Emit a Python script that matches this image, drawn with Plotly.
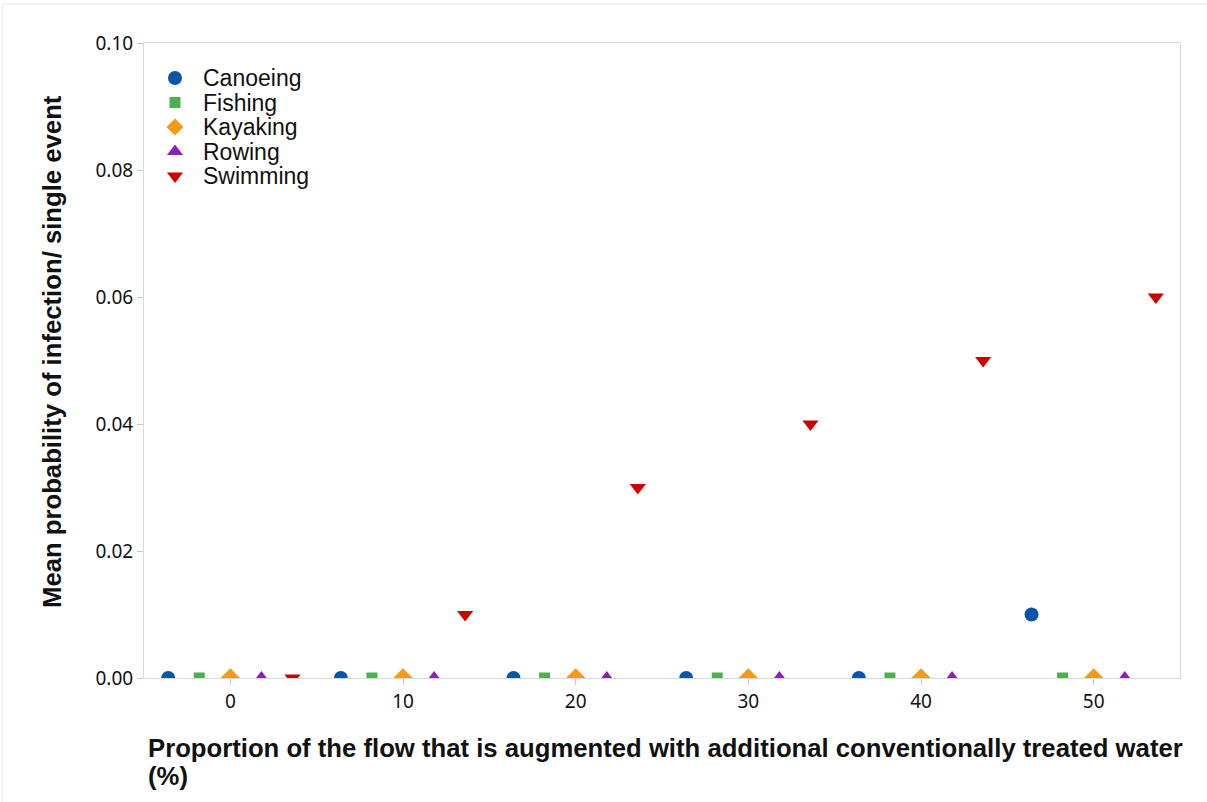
import plotly.graph_objects as go

# Augmentation levels (%) and mean probability of infection per activity
augmentation = [0, 10, 20, 30, 40, 50]
activities = ["Canoeing", "Fishing", "Kayaking", "Rowing", "Swimming"]
canoeing = [0.0, 0.0, 0.0, 0.0, 0.0, 0.01]
fishing = [0.0, 0.0, 0.0, 0.0, 0.0, 0.0]
kayaking = [0.0, 0.0, 0.0, 0.0, 0.0, 0.0]
rowing = [0.0, 0.0, 0.0, 0.0, 0.0, 0.0]
swimming = [0.0, 0.01, 0.03, 0.04, 0.05, 0.06]
y_ticks = [0.00, 0.02, 0.04, 0.06, 0.08, 0.10]
x_ticks = [0, 10, 20, 30, 40, 50]

series_values = [canoeing, fishing, kayaking, rowing, swimming]
symbols = ["circle", "square", "diamond", "triangle-up", "triangle-down"]
sizes = [14, 11, 15, 14, 14]
key_sizes = [14, 11, 13, 14, 14]
colors = ["#0b55a8", "#4caf50", "#f59a12", "#8e1fb8", "#cc0000"]
dodge = [-3.6, -1.8, 0.0, 1.8, 3.6]

# Plot-area geometry in pixels
W, H = 1207, 802
L, R, T, B = 144, 27, 43, 124
pw, ph = W - L - R, H - T - B


def px_x(p):
    return (p - L) / pw


def px_y(p):
    return (H - B - p) / ph


fig = go.Figure()
for name, vals, sym, sz, col, off in zip(activities, series_values, symbols, sizes, colors, dodge):
    fig.add_trace(go.Scatter(
        x=[a + off for a in augmentation],
        y=vals,
        mode="markers",
        name=name,
        showlegend=False,
        marker=dict(symbol=sym, size=sz, color=col, line=dict(width=0)),
        cliponaxis=True,
    ))

# Key: drawn on an overlay pixel axis so the rows can sit close together
key_x0, key_y0, key_step, key_text_dx = 175, 78, 24.5, 26
for i, (name, sym, sz, col) in enumerate(zip(activities, symbols, key_sizes, colors)):
    ky = H - B - (key_y0 + i * key_step)
    fig.add_trace(go.Scatter(
        x=[key_x0 - L], y=[ky], mode="markers", showlegend=False,
        marker=dict(symbol=sym, size=sz, color=col, line=dict(width=0)),
        xaxis="x2", yaxis="y2", hoverinfo="skip", cliponaxis=False,
    ))
    fig.add_annotation(
        text=name, xref="x2", yref="y2", x=key_x0 - L + key_text_dx, y=ky,
        xanchor="left", yanchor="middle", showarrow=False,
        font=dict(family="Liberation Sans", size=23, color="#111111"),
    )

axis_common = dict(
    showgrid=False, zeroline=False, showline=True, mirror=True,
    linecolor="#d9d9d9", linewidth=1, ticks="outside", ticklen=6,
    tickcolor="#c8c8c8", tickfont=dict(family="Noto Sans", size=19, color="#111111"),
)

fig.update_xaxes(range=[-5, 55], tickvals=x_ticks, ticktext=[str(v) for v in x_ticks],
                 ticklabelstandoff=0, **axis_common)
fig.update_yaxes(range=[0, 0.1], tickvals=y_ticks, ticktext=[f"{v:.2f}" for v in y_ticks],
                 **axis_common)

title_font = dict(family="Liberation Sans", size=25.7, color="#111111", weight="bold")
fig.add_annotation(
    text="Proportion of the flow that is augmented with additional conventionally treated water",
    xref="paper", yref="paper", x=px_x(146), y=px_y(748),
    xanchor="left", yanchor="middle", align="left", showarrow=False,
    font=title_font,
)
fig.add_annotation(
    text="(%)",
    xref="paper", yref="paper", x=px_x(146), y=px_y(776),
    xanchor="left", yanchor="middle", align="left", showarrow=False,
    font=title_font,
)
fig.add_annotation(
    text="Mean probability of infection/ single event",
    xref="paper", yref="paper", x=px_x(52), y=px_y(352),
    xanchor="center", yanchor="middle", textangle=-90, showarrow=False,
    font=title_font,
)

# faint page border along the top and left edges
fig.add_shape(type="line", xref="paper", yref="paper",
              x0=px_x(2), x1=px_x(1207), y0=px_y(4), y1=px_y(4),
              line=dict(color="#e6e6e6", width=1))
fig.add_shape(type="line", xref="paper", yref="paper",
              x0=px_x(2), x1=px_x(2), y0=px_y(4), y1=px_y(802),
              line=dict(color="#e6e6e6", width=1))

fig.update_layout(
    width=W, height=H,
    margin=dict(l=L, r=R, t=T, b=B),
    paper_bgcolor="white", plot_bgcolor="white",
    showlegend=False,
    xaxis2=dict(overlaying="x", range=[0, pw], visible=False, domain=[0, 1], anchor="y2"),
    yaxis2=dict(overlaying="y", range=[0, ph], visible=False, domain=[0, 1], anchor="x2"),
)

fig.write_html("out.html")
